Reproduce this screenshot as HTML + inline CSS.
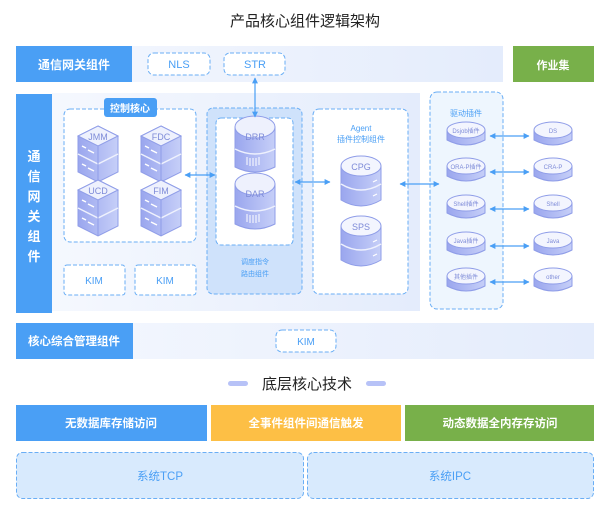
<!DOCTYPE html>
<html><head><meta charset="utf-8"><style>
html,body{margin:0;padding:0;background:#fff;width:610px;height:517px;overflow:hidden}
svg{display:block}
text{font-family:"Liberation Sans","Noto Sans CJK SC",sans-serif}
</style></head><body>
<svg width="610" height="517" viewBox="0 0 610 517" xmlns="http://www.w3.org/2000/svg">
<defs>
<linearGradient id="lg" x1="0" x2="1"><stop offset="0" stop-color="#f5f8fe"/><stop offset="1" stop-color="#e4ecfc"/></linearGradient>
<linearGradient id="cyl" x1="0" x2="1"><stop offset="0" stop-color="#9aa6ee"/><stop offset="1" stop-color="#c6cff8"/></linearGradient>
<marker id="ah" viewBox="0 0 10 10" refX="9" refY="5" markerWidth="5" markerHeight="5" orient="auto-start-reverse"><path d="M0,0L10,5L0,10z" fill="#4a9ff5"/></marker>
<g id="cube">
<path d="M0,-24 L20,-14 L20,22 L0,32 L-20,22 L-20,-14Z" fill="url(#cyl)" stroke="#8f9de8" stroke-width="1"/>
<path d="M0,-24 L20,-14 L0,-4 L-20,-14Z" fill="#eef1fd" stroke="#8f9de8" stroke-width="1"/>
<path d="M-20,4 L0,14 L20,4" fill="none" stroke="#eef1fd" stroke-width="1.5"/>
<path d="M0,-4 L0,32" stroke="#8f9de8" stroke-width="1"/>
<path d="M-16,-4 l4,2 M-16,14 l4,2 M-10,0 l6,3 M-10,18 l6,3" stroke="#fff" stroke-width="1.5"/>
</g>
<g id="srv">
<path d="M-20,-18 L20,-18 L20,22 Q0,32 -20,22Z" fill="url(#cyl)" stroke="#8f9de8"/>
<ellipse cx="0" cy="-18" rx="20" ry="11" fill="#eef1fd" stroke="#8f9de8"/>
<path d="M-20,4 Q0,14 20,4" fill="none" stroke="#eef1fd" stroke-width="1.5"/>
<path d="M-8,12v8M-5,13v8M-2,13v8M1,13v8M4,12v8" stroke="#fff" stroke-width="1"/>
</g>
<g id="db">
<path d="M-20,-14 L-20,20 Q0,32 20,20 L20,-14Z" fill="url(#cyl)" stroke="#8f9de8"/>
<path d="M-20,4 Q0,16 20,4" fill="none" stroke="#eef1fd" stroke-width="1.5"/>
<ellipse cx="0" cy="-14" rx="20" ry="10" fill="#f3f5fe" stroke="#8f9de8"/>
<path d="M12,2l4,-2M12,16l4,-2" stroke="#fff" stroke-width="1.2"/>
</g>
<g id="pl">
<path d="M-19,-4 L-19,6 Q0,16 19,6 L19,-4Z" fill="url(#cyl)" stroke="#8f9de8"/>
<ellipse cx="0" cy="-4" rx="19" ry="8" fill="#f3f5fe" stroke="#8f9de8"/>
</g>
</defs>

<text x="305" y="26" font-size="15" text-anchor="middle" fill="#222">产品核心组件逻辑架构</text>

<rect x="16" y="46" width="487" height="36" fill="url(#lg)"/>
<rect x="16" y="46" width="116" height="36" fill="#4a9ff5"/>
<text x="74" y="69" font-size="12" font-weight="bold" fill="#fff" text-anchor="middle">通信网关组件</text>
<rect x="148" y="53" width="62" height="22" rx="6" fill="#fff" stroke="#6aaef5" stroke-dasharray="4 2"/>
<text x="179" y="68" font-size="11" fill="#4a9ff5" text-anchor="middle">NLS</text>
<rect x="224" y="53" width="61" height="22" rx="6" fill="#fff" stroke="#6aaef5" stroke-dasharray="4 2"/>
<text x="255" y="68" font-size="11" fill="#4a9ff5" text-anchor="middle">STR</text>
<rect x="513" y="46" width="81" height="36" fill="#78b04a"/>
<text x="553" y="69" font-size="11" font-weight="bold" fill="#fff" text-anchor="middle">作业集</text>

<rect x="52" y="93" width="368" height="218" fill="url(#lg)"/>
<rect x="16" y="94" width="36" height="219" fill="#4a9ff5"/>
<g font-size="13" font-weight="bold" fill="#fff" text-anchor="middle">
<text x="34" y="161">通</text><text x="34" y="181">信</text><text x="34" y="201">网</text><text x="34" y="221">关</text><text x="34" y="241">组</text><text x="34" y="261">件</text></g>

<rect x="64" y="109" width="132" height="133" rx="6" fill="#fff" stroke="#6aaef5" stroke-dasharray="4 2"/>
<rect x="104" y="98" width="53" height="19" rx="3" fill="#4a9ff5"/>
<text x="130" y="112" font-size="10" font-weight="bold" fill="#fff" text-anchor="middle">控制核心</text>
<use href="#cube" x="98" y="150"/><use href="#cube" x="161" y="150"/>
<use href="#cube" x="98" y="204"/><use href="#cube" x="161" y="204"/>
<g font-size="9" fill="#7e8bd8" text-anchor="middle">
<text x="98" y="140">JMM</text><text x="161" y="140">FDC</text><text x="98" y="194">UCD</text><text x="161" y="194">FIM</text></g>

<rect x="64" y="265" width="61" height="30" rx="3" fill="#fff" stroke="#6aaef5" stroke-dasharray="4 2"/>
<text x="94" y="284" font-size="10" fill="#4a9ff5" text-anchor="middle">KIM</text>
<rect x="135" y="265" width="61" height="30" rx="3" fill="#fff" stroke="#6aaef5" stroke-dasharray="4 2"/>
<text x="165" y="284" font-size="10" fill="#4a9ff5" text-anchor="middle">KIM</text>

<rect x="207" y="108" width="95" height="186" rx="6" fill="#cfe2fb" stroke="#6aaef5" stroke-dasharray="4 2"/>
<rect x="216" y="118" width="77" height="127" rx="5" fill="#fff" stroke="#6aaef5" stroke-dasharray="4 2"/>
<use href="#srv" x="255" y="145"/><use href="#srv" x="255" y="202"/>
<text x="255" y="140" font-size="9" fill="#7e8bd8" text-anchor="middle">DRR</text>
<text x="255" y="197" font-size="9" fill="#7e8bd8" text-anchor="middle">DAR</text>
<text x="255" y="264" font-size="7" fill="#4a9ff5" text-anchor="middle">调度指令</text>
<text x="255" y="276" font-size="7" fill="#4a9ff5" text-anchor="middle">路由组件</text>

<rect x="313" y="109" width="95" height="185" rx="6" fill="#fff" stroke="#6aaef5" stroke-dasharray="4 2"/>
<text x="361" y="131" font-size="8" fill="#4a9ff5" text-anchor="middle">Agent</text>
<text x="361" y="142" font-size="8" fill="#4a9ff5" text-anchor="middle">插件控制组件</text>
<use href="#db" x="361" y="180"/><use href="#db" x="361" y="240"/>
<text x="361" y="170" font-size="9" fill="#7e8bd8" text-anchor="middle">CPG</text>
<text x="361" y="230" font-size="9" fill="#7e8bd8" text-anchor="middle">SPS</text>

<rect x="430" y="92" width="73" height="217" rx="7" fill="#eef6fe" stroke="#6aaef5" stroke-dasharray="4 2"/>
<text x="466" y="116" font-size="8" fill="#4a9ff5" text-anchor="middle">驱动插件</text>

<g font-size="6" fill="#7e8bd8" text-anchor="middle">
<use href="#pl" x="466" y="134"/><text x="466" y="133">Dsjob插件</text>
<use href="#pl" x="466" y="170"/><text x="466" y="169">ORA-P插件</text>
<use href="#pl" x="466" y="207"/><text x="466" y="206">Shell插件</text>
<use href="#pl" x="466" y="244"/><text x="466" y="243">Java插件</text>
<use href="#pl" x="466" y="280"/><text x="466" y="279">其他插件</text>
<use href="#pl" x="553" y="134"/><text x="553" y="133">DS</text>
<use href="#pl" x="553" y="170"/><text x="553" y="169">CRA-P</text>
<use href="#pl" x="553" y="207"/><text x="553" y="206">Shell</text>
<use href="#pl" x="553" y="244"/><text x="553" y="243">Java</text>
<use href="#pl" x="553" y="280"/><text x="553" y="279">other</text>
</g>

<g stroke="#4a9ff5" stroke-width="1.2" marker-start="url(#ah)" marker-end="url(#ah)">
<line x1="255" y1="78" x2="255" y2="117"/>
<line x1="185" y1="175" x2="215" y2="175"/>
<line x1="295" y1="182" x2="330" y2="182"/>
<line x1="400" y1="184" x2="439" y2="184"/>
<line x1="490" y1="136" x2="529" y2="136"/>
<line x1="490" y1="172" x2="529" y2="172"/>
<line x1="490" y1="209" x2="529" y2="209"/>
<line x1="490" y1="246" x2="529" y2="246"/>
<line x1="490" y1="282" x2="529" y2="282"/>
</g>

<rect x="16" y="323" width="578" height="36" fill="url(#lg)"/>
<rect x="16" y="323" width="117" height="36" fill="#4a9ff5"/>
<text x="74" y="345" font-size="11.5" font-weight="bold" fill="#fff" text-anchor="middle">核心综合管理组件</text>
<rect x="276" y="330" width="60" height="22" rx="6" fill="#fff" stroke="#6aaef5" stroke-dasharray="4 2"/>
<text x="306" y="345" font-size="10" fill="#4a9ff5" text-anchor="middle">KIM</text>

<rect x="228" y="381" width="20" height="5" rx="2.5" fill="#b7c2f7"/>
<rect x="366" y="381" width="20" height="5" rx="2.5" fill="#b7c2f7"/>
<text x="307" y="389" font-size="15" fill="#222" text-anchor="middle">底层核心技术</text>

<rect x="16" y="405" width="191" height="36" fill="#4a9ff5"/>
<rect x="211" y="405" width="190" height="36" fill="#fdbf45"/>
<rect x="405" y="405" width="189" height="36" fill="#78b04a"/>
<g font-size="11.5" font-weight="bold" fill="#fff" text-anchor="middle">
<text x="111" y="427">无数据库存储访问</text><text x="306" y="427">全事件组件间通信触发</text><text x="500" y="427">动态数据全内存存访问</text></g>

<rect x="16.5" y="452.5" width="287" height="46" rx="6" fill="#d8eafd" stroke="#6aaef5" stroke-dasharray="4 2"/>
<rect x="307.5" y="452.5" width="286" height="46" rx="6" fill="#d8eafd" stroke="#6aaef5" stroke-dasharray="4 2"/>
<text x="160" y="480" font-size="11.5" fill="#4a9ff5" text-anchor="middle">系统TCP</text>
<text x="450" y="480" font-size="11.5" fill="#4a9ff5" text-anchor="middle">系统IPC</text>
</svg>
</body></html>
